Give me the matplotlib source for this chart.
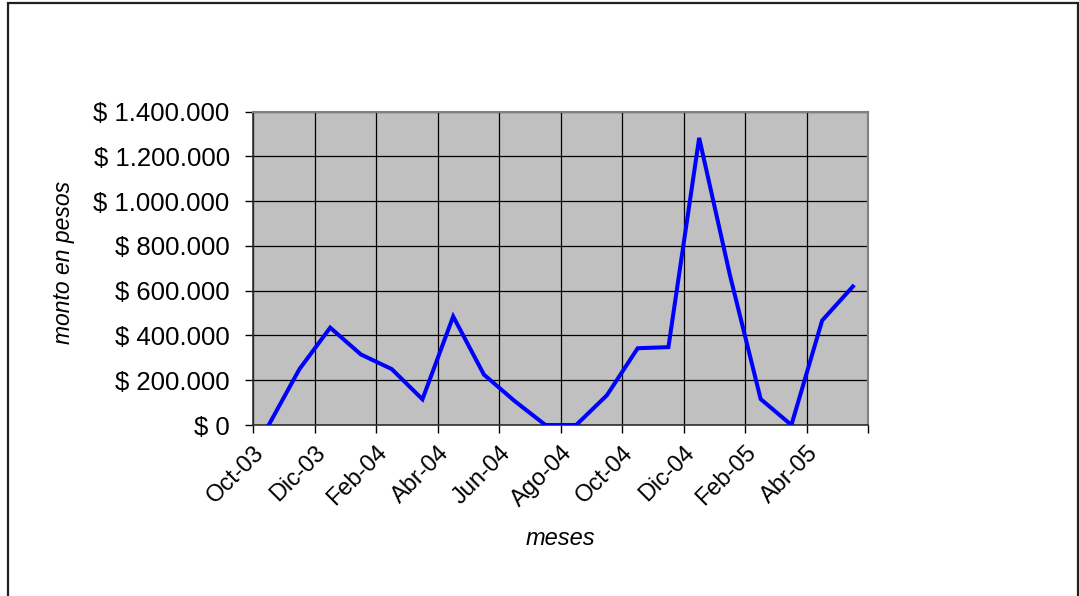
import numpy as np
import matplotlib
matplotlib.use("Agg")
import matplotlib.pyplot as plt
from matplotlib.patches import Rectangle

# ========= datos =========
meses = ["Oct-03", "Nov-03", "Dic-03", "Ene-04", "Feb-04", "Mar-04", "Abr-04",
         "May-04", "Jun-04", "Jul-04", "Ago-04", "Sep-04", "Oct-04", "Nov-04",
         "Dic-04", "Ene-05", "Feb-05", "Mar-05", "Abr-05", "May-05"]
montos = [0, 250000, 435000, 315000, 250000, 115000, 485000,
          225000, 107000, 0, 0, 133000, 343000, 348000,
          1283000, 670000, 116000, 0, 467000, 619000]
y_ticks = [0, 200000, 400000, 600000, 800000, 1000000, 1200000, 1400000]

# ========= estilo =========
plt.rcParams.update({
    "font.family": ["Liberation Sans", "DejaVu Sans"],
    "font.size": 16,
})


def pesos(v):
    # formato con punto como separador de miles
    if v == 0:
        return "$ 0"
    return "$ " + f"{int(v):,}".replace(",", ".")


fig = plt.figure(figsize=(10.79, 5.96), dpi=100)
ax = fig.add_axes([0.2348, 0.2869, 0.5699, 0.5257])

n = len(meses)
x = np.arange(n) + 0.5
ax.plot(x, montos, color="#0000FF", linewidth=2.9, solid_joinstyle="miter", zorder=3)

ax.set_facecolor("#C0C0C0")
ax.set_xlim(0, n)
ax.set_ylim(0, 1400000)

# eje x: una marca cada dos meses
xt = np.arange(0, n + 1, 2)
ax.set_xticks(xt)
ax.set_xticklabels(meses[::2] + [""], rotation=45, ha="right", va="top",
                   rotation_mode="anchor", fontsize=17)
ax.set_yticks(y_ticks)
ax.set_yticklabels([pesos(v) for v in y_ticks], fontsize=18.5)

ax.tick_params(axis="y", direction="out", length=6, width=1, pad=11, color="black")
ax.tick_params(axis="x", direction="out", length=6, width=1, pad=6, color="black")

ax.grid(True, color="black", linewidth=0.9)
ax.set_axisbelow(True)

for s in ["top", "right"]:
    ax.spines[s].set_color("#808080")
    ax.spines[s].set_linewidth(1.5)
for s in ["left", "bottom"]:
    ax.spines[s].set_color("#303030")
    ax.spines[s].set_linewidth(1.2)

ax.set_ylabel("monto en pesos", fontstyle="italic", fontsize=16.5)
ax.yaxis.set_label_coords(-0.29, 0.52)
ax.set_xlabel("meses", fontstyle="italic", fontsize=17)
ax.xaxis.set_label_coords(0.5, -0.325)

# marco exterior del gráfico
fig.add_artist(Rectangle((8.3 / 1079, -0.02), 1070 / 1079, 1 - 3.3 / 596 + 0.02,
                         transform=fig.transFigure, fill=False,
                         edgecolor="#202020", linewidth=1.6))

fig.savefig("out.png", dpi=100)
